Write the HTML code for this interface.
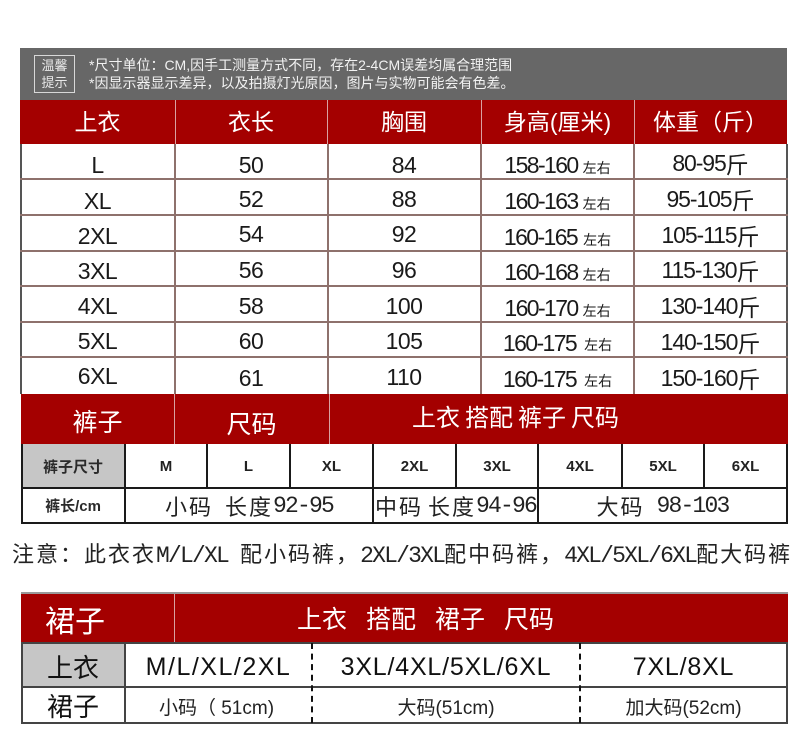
<!DOCTYPE html>
<html><head><meta charset="utf-8">
<style>
html,body{margin:0;padding:0;background:#fff;}
body{width:809px;height:736px;position:relative;overflow:hidden;font-family:"Liberation Sans","Noto Sans CJK SC",sans-serif;}
.a{position:absolute;}
.c{position:absolute;display:flex;align-items:center;justify-content:center;white-space:nowrap;}
.hl{position:absolute;height:2px;background:#8e716c;}
.vl{position:absolute;width:2px;background:#8e716c;}
.red{position:absolute;background:#a40000;}
.w{color:#fff;}
.cn{font-family:"Noto Sans CJK SC",sans-serif;}
.num{font-size:23px;color:#1a1a1a;letter-spacing:-0.5px;}
.h{font-family:"Liberation Sans","Noto Sans CJK SC",sans-serif;font-size:23px;color:#fff;}
.bk{position:absolute;background:#1a1a1a;}
.small{font-size:14px;letter-spacing:0;}
.nar{letter-spacing:-1.6px;}
.wt{letter-spacing:-1.1px;}
.nl{font-family:"Liberation Mono",monospace;font-size:23px;letter-spacing:-1.8px;}
.nc{font-family:"Noto Sans CJK SC",sans-serif;font-size:22px;letter-spacing:2px;}
</style></head><body>

<!-- gray note band -->
<div class="a" style="left:20px;top:48px;width:767px;height:52px;background:#676767;"></div>
<div class="a" style="left:34px;top:55px;width:39px;height:36px;border:1px solid #d8d8d8;"></div>
<div class="a cn" style="left:35px;top:56px;width:39px;font-size:13px;line-height:17px;color:#e8e8e8;text-align:center;">温馨<br>提示</div>
<div class="a" style="left:89px;top:56px;font-size:14px;line-height:18px;color:#f2f2f2;white-space:nowrap;">*尺寸单位：CM,因手工测量方式不同，存在2-4CM误差均属合理范围<br>*因显示器显示差异，以及拍摄灯光原因，图片与实物可能会有色差。</div>

<!-- top red header -->
<div class="red" style="left:20px;top:100px;width:767px;height:44px;"></div>
<div class="a" style="left:175px;top:100px;width:1px;height:44px;background:#d9a0a0;"></div>
<div class="a" style="left:327px;top:100px;width:1px;height:44px;background:#d9a0a0;"></div>
<div class="a" style="left:481px;top:100px;width:1px;height:44px;background:#d9a0a0;"></div>
<div class="a" style="left:634px;top:100px;width:1px;height:44px;background:#d9a0a0;"></div>
<div class="c h" style="left:20px;top:100px;width:155px;height:40px;">上衣</div>
<div class="c h" style="left:175px;top:100px;width:152px;height:40px;">衣长</div>
<div class="c h" style="left:327px;top:100px;width:154px;height:40px;">胸围</div>
<div class="c h" style="left:481px;top:100px;width:153px;height:40px;">身高(厘米)</div>
<div class="c h" style="left:634px;top:100px;width:153px;height:40px;">体重（斤）</div>

<!-- top body lines -->
<div class="vl" style="left:20px;top:144px;height:250px;background:#555;"></div>
<div class="vl" style="left:174px;top:144px;height:250px;"></div>
<div class="vl" style="left:327px;top:144px;height:250px;"></div>
<div class="vl" style="left:480px;top:144px;height:250px;"></div>
<div class="vl" style="left:633px;top:144px;height:250px;"></div>
<div class="vl" style="left:786px;top:144px;height:250px;background:#555;"></div>
<div class="hl" style="left:20px;top:178px;width:768px;"></div>
<div class="hl" style="left:20px;top:214px;width:768px;"></div>
<div class="hl" style="left:20px;top:250px;width:768px;"></div>
<div class="hl" style="left:20px;top:285px;width:768px;"></div>
<div class="hl" style="left:20px;top:321px;width:768px;"></div>
<div class="hl" style="left:20px;top:356px;width:768px;"></div>

<!-- rows -->
<div class="c num" style="left:20px;top:149px;width:155px;height:32px;">L</div>
<div class="c num" style="left:175px;top:149px;width:152px;height:32px;">50</div>
<div class="c num" style="left:327px;top:149px;width:154px;height:32px;">84</div>
<div class="c num nar" style="left:481px;top:149px;width:153px;height:32px;">158-160<span class="cn small" style="margin-left:5px;margin-top:6px;">左右</span></div>
<div class="c num wt" style="left:634px;top:147px;width:153px;height:32px;">80-95<span class="cn" style="letter-spacing:0;">斤</span></div>

<div class="c num" style="left:20px;top:185px;width:155px;height:32px;">XL</div>
<div class="c num" style="left:175px;top:183px;width:152px;height:32px;">52</div>
<div class="c num" style="left:327px;top:183px;width:154px;height:32px;">88</div>
<div class="c num nar" style="left:481px;top:185px;width:153px;height:32px;">160-163<span class="cn small" style="margin-left:5px;margin-top:6px;">左右</span></div>
<div class="c num wt" style="left:634px;top:183px;width:153px;height:32px;">95-105<span class="cn" style="letter-spacing:0;">斤</span></div>

<div class="c num" style="left:20px;top:220px;width:155px;height:32px;">2XL</div>
<div class="c num" style="left:175px;top:218px;width:152px;height:32px;">54</div>
<div class="c num" style="left:327px;top:218px;width:154px;height:32px;">92</div>
<div class="c num nar" style="left:481px;top:221px;width:153px;height:32px;">160-165<span class="cn small" style="margin-left:6px;margin-top:6px;">左右</span></div>
<div class="c num wt" style="left:634px;top:219px;width:153px;height:32px;">105-115<span class="cn" style="letter-spacing:0;">斤</span></div>

<div class="c num" style="left:20px;top:255px;width:155px;height:32px;">3XL</div>
<div class="c num" style="left:175px;top:254px;width:152px;height:32px;">56</div>
<div class="c num" style="left:327px;top:254px;width:154px;height:32px;">96</div>
<div class="c num nar" style="left:481px;top:256px;width:153px;height:32px;">160-168<span class="cn small" style="margin-left:5px;margin-top:6px;">左右</span></div>
<div class="c num wt" style="left:634px;top:254px;width:153px;height:32px;">115-130<span class="cn" style="letter-spacing:0;">斤</span></div>

<div class="c num" style="left:20px;top:290px;width:155px;height:32px;">4XL</div>
<div class="c num" style="left:175px;top:290px;width:152px;height:32px;">58</div>
<div class="c num" style="left:327px;top:290px;width:154px;height:32px;">100</div>
<div class="c num nar" style="left:481px;top:292px;width:153px;height:32px;">160-170<span class="cn small" style="margin-left:5px;margin-top:6px;">左右</span></div>
<div class="c num wt" style="left:634px;top:290px;width:153px;height:32px;">130-140<span class="cn" style="letter-spacing:0;">斤</span></div>

<div class="c num" style="left:20px;top:325px;width:155px;height:32px;">5XL</div>
<div class="c num" style="left:175px;top:325px;width:152px;height:32px;">60</div>
<div class="c num" style="left:327px;top:325px;width:154px;height:32px;">105</div>
<div class="c num nar" style="left:481px;top:327px;width:153px;height:32px;">160-175<span class="cn small" style="margin-left:8px;margin-top:4px;">左右</span></div>
<div class="c num wt" style="left:634px;top:326px;width:153px;height:32px;">140-150<span class="cn" style="letter-spacing:0;">斤</span></div>

<div class="c num" style="left:20px;top:360px;width:155px;height:32px;">6XL</div>
<div class="c num" style="left:175px;top:362px;width:152px;height:32px;">61</div>
<div class="c num" style="left:327px;top:361px;width:154px;height:32px;">110</div>
<div class="c num nar" style="left:481px;top:363px;width:153px;height:32px;">160-175<span class="cn small" style="margin-left:8px;margin-top:4px;">左右</span></div>
<div class="c num wt" style="left:634px;top:362px;width:153px;height:32px;">150-160<span class="cn" style="letter-spacing:0;">斤</span></div>

<!-- section 2: pants -->
<div class="red" style="left:21px;top:394px;width:767px;height:50px;"></div>
<div class="a" style="left:174px;top:394px;width:1px;height:50px;background:#d9a0a0;"></div>
<div class="a" style="left:329px;top:394px;width:1px;height:50px;background:#d9a0a0;"></div>
<div class="c cn w" style="left:21px;top:398px;width:153px;height:46px;font-size:25px;">裤子</div>
<div class="c cn w" style="left:174px;top:400px;width:155px;height:46px;font-size:25px;">尺码</div>
<div class="a cn w" style="left:412px;top:401px;font-size:24px;line-height:30px;white-space:nowrap;word-spacing:0;">上衣<span style="margin-left:5px">搭配</span><span style="margin-left:5px">裤子</span><span style="margin-left:5px">尺码</span></div>

<div class="a" style="left:21px;top:444px;width:104px;height:44px;background:#c6c6c6;"></div>
<div class="bk" style="left:21px;top:444px;width:2px;height:80px;"></div>
<div class="bk" style="left:124px;top:444px;width:2px;height:80px;"></div>
<div class="bk" style="left:206px;top:444px;width:2px;height:44px;"></div>
<div class="bk" style="left:289px;top:444px;width:2px;height:44px;"></div>
<div class="bk" style="left:372px;top:444px;width:2px;height:80px;"></div>
<div class="bk" style="left:455px;top:444px;width:2px;height:44px;"></div>
<div class="bk" style="left:537px;top:444px;width:2px;height:80px;"></div>
<div class="bk" style="left:621px;top:444px;width:2px;height:44px;"></div>
<div class="bk" style="left:703px;top:444px;width:2px;height:44px;"></div>
<div class="bk" style="left:786px;top:444px;width:2px;height:80px;"></div>
<div class="bk" style="left:21px;top:487px;width:767px;height:2px;"></div>
<div class="bk" style="left:21px;top:522px;width:767px;height:2px;"></div>

<div class="c cn" style="left:21px;top:444px;width:104px;height:44px;font-size:15px;font-weight:bold;color:#2a2a2a;">裤子尺寸</div>
<div class="c" style="left:125px;top:444px;width:82px;height:44px;font-size:15px;font-weight:bold;color:#222;">M</div>
<div class="c" style="left:207px;top:444px;width:83px;height:44px;font-size:15px;font-weight:bold;color:#222;">L</div>
<div class="c" style="left:290px;top:444px;width:83px;height:44px;font-size:15px;font-weight:bold;color:#222;">XL</div>
<div class="c" style="left:373px;top:444px;width:83px;height:44px;font-size:15px;font-weight:bold;color:#222;">2XL</div>
<div class="c" style="left:456px;top:444px;width:82px;height:44px;font-size:15px;font-weight:bold;color:#222;">3XL</div>
<div class="c" style="left:538px;top:444px;width:84px;height:44px;font-size:15px;font-weight:bold;color:#222;">4XL</div>
<div class="c" style="left:622px;top:444px;width:82px;height:44px;font-size:15px;font-weight:bold;color:#222;">5XL</div>
<div class="c" style="left:704px;top:444px;width:83px;height:44px;font-size:15px;font-weight:bold;color:#222;">6XL</div>

<div class="c" style="left:21px;top:488px;width:104px;height:35px;font-size:15px;font-weight:bold;color:#2a2a2a;">裤长/cm</div>
<div class="c" style="left:125px;top:488px;width:248px;height:35px;color:#222;"><span class="nc">小码</span><span class="nc" style="margin-left:12px;">长度</span><span class="nl">92-95</span></div>
<div class="a" style="left:375px;top:488px;height:35px;display:flex;align-items:center;white-space:nowrap;color:#222;"><span class="nc">中码</span><span class="nc" style="margin-left:5px;">长度</span><span class="nl">94-96</span></div>
<div class="c" style="left:538px;top:488px;width:249px;height:35px;color:#222;"><span class="nc">大码</span><span class="nl" style="margin-left:12px;">98-103</span></div>

<!-- note -->
<div class="a" style="left:12px;top:539px;line-height:28px;color:#222;white-space:nowrap;"><span class="nc">注意：此衣衣</span><span class="nl">M/L/XL </span><span class="nc">配小码裤，</span><span class="nl">2XL/3XL</span><span class="nc">配中码裤，</span><span class="nl">4XL/5XL/6XL</span><span class="nc">配大码裤</span></div>

<!-- section 3: skirt -->
<div class="a" style="left:21px;top:592px;width:767px;height:2px;background:#9a9a9a;"></div>
<div class="red" style="left:21px;top:594px;width:767px;height:49px;"></div>
<div class="a" style="left:174px;top:594px;width:1px;height:49px;background:#d9a0a0;"></div>
<div class="c cn w" style="left:21px;top:596px;width:108px;height:46px;font-size:30px;">裙子</div>
<div class="a cn w" style="left:297px;top:602px;font-size:25px;line-height:32px;white-space:nowrap;">上衣<span style="margin-left:19px">搭配</span><span style="margin-left:19px">裙子</span><span style="margin-left:19px">尺码</span></div>

<div class="a" style="left:21px;top:643px;width:104px;height:44px;background:#c6c6c6;"></div>
<div class="a" style="left:21px;top:643px;width:2px;height:81px;background:#444;"></div>
<div class="a" style="left:124px;top:643px;width:2px;height:81px;background:#444;"></div>
<div class="a" style="left:786px;top:643px;width:2px;height:81px;background:#444;"></div>
<div class="a" style="left:21px;top:642px;width:767px;height:2px;background:#444;"></div>
<div class="a" style="left:21px;top:686px;width:767px;height:2px;background:#444;"></div>
<div class="a" style="left:21px;top:722px;width:767px;height:2px;background:#444;"></div>
<div class="a" style="left:311px;top:643px;width:0;height:80px;border-left:2px dashed #111;"></div>
<div class="a" style="left:579px;top:643px;width:0;height:80px;border-left:2px dashed #111;"></div>

<div class="c cn" style="left:21px;top:644px;width:104px;height:44px;font-size:26px;color:#111;">上衣</div>
<div class="c" style="left:125px;top:645px;width:187px;height:44px;font-size:25px;color:#111;letter-spacing:1.5px;">M/L/XL/2XL</div>
<div class="c" style="left:312px;top:645px;width:268px;height:44px;font-size:25px;color:#111;letter-spacing:0.8px;">3XL/4XL/5XL/6XL</div>
<div class="c" style="left:580px;top:645px;width:207px;height:44px;font-size:25px;color:#111;letter-spacing:0.8px;">7XL/8XL</div>

<div class="c cn" style="left:21px;top:687px;width:104px;height:36px;font-size:26px;color:#111;">裙子</div>
<div class="c" style="left:125px;top:688px;width:183px;height:36px;font-size:19px;color:#222;">小码（ 51cm)</div>
<div class="c" style="left:312px;top:688px;width:268px;height:36px;font-size:19px;color:#222;">大码(51cm)</div>
<div class="c" style="left:580px;top:688px;width:207px;height:36px;font-size:19px;color:#222;">加大码(52cm)</div>

</body></html>
